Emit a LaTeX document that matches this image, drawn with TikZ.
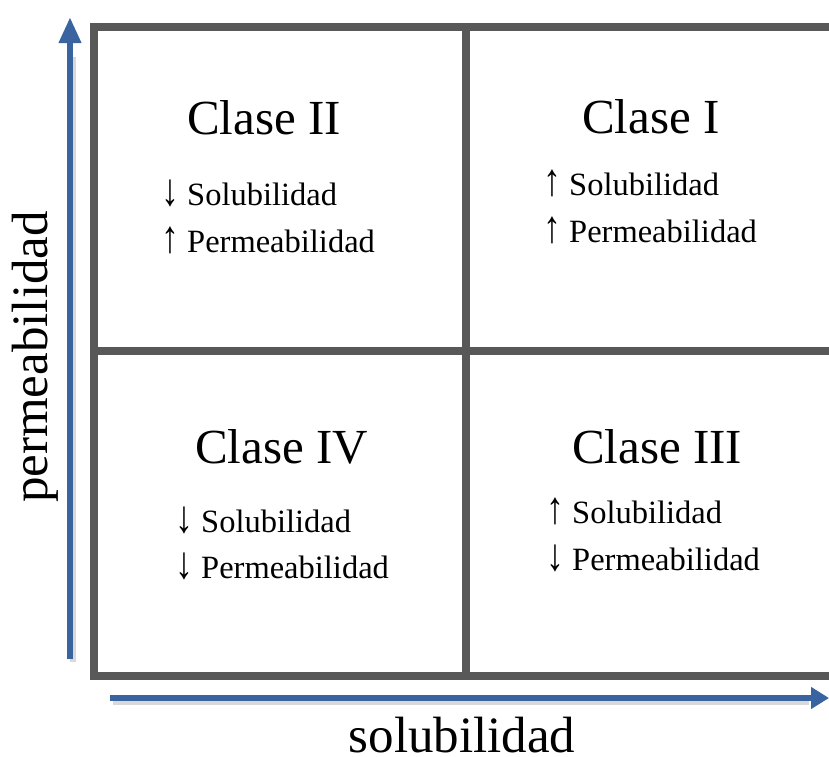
\documentclass[tikz,border=0pt]{standalone}
\usepackage{fontspec}
\setmainfont{Liberation Serif}
\usetikzlibrary{arrows.meta}
\definecolor{gridgray}{HTML}{585858}
\definecolor{axisblue}{HTML}{3A64A0}
\newcommand{\upar}{\scalebox{1.1}[1.4]{↑}}
\newcommand{\dnar}{\scalebox{1.1}[1.4]{↓}}
\tikzset{
  gridline/.style={draw=gridgray, line width=8pt},
  axis/.style={draw=axisblue, line width=6.5pt},
  title/.style={anchor=base west, inner sep=0pt, font=\fontsize{49}{58}\selectfont},
  item/.style={anchor=base west, inner sep=0pt, font=\fontsize{32.5}{39}\selectfont},
  axlabel/.style={anchor=base, inner sep=0pt, font=\fontsize{51}{60}\selectfont}
}
\begin{document}
\begin{tikzpicture}[x=1pt,y=-1pt]
\useasboundingbox (0,0) rectangle (829,756);
\clip (0,0) rectangle (829,756);
% grid
\coordinate (gtl) at (93.5,27);
\coordinate (gbr) at (840,676);
\draw[gridline] (gtl) rectangle (gbr);
\coordinate (vtop) at (466,27);
\coordinate (vbot) at (466,676);
\draw[gridline] (vtop) -- (vbot);
\coordinate (hleft) at (93.5,351);
\coordinate (hright) at (840,351);
\draw[gridline] (hleft) -- (hright);
% axes
\coordinate (yb) at (70,659);
\coordinate (yt) at (70,17);
\coordinate (xl) at (110,698);
\coordinate (xr) at (829,698);
\draw[line width=6pt, draw=black!15, line cap=butt] ([shift={(3,3)}]yb) -- ([shift={(3,40)}]yt);
\draw[line width=6pt, draw=black!15] ([shift={(3,4)}]xl) -- ([shift={(-20,4)}]xr);
\draw[axis, -{Triangle[length=26pt,width=21pt]}] (yb) -- (yt);
\draw[axis, -{Triangle[length=18pt,width=21pt]}] (xl) -- (xr);
\node[axlabel, rotate=90] (ylab) at (47,357) {permeabilidad};
\node[axlabel] (xlab) at (462,752) {solubilidad};
% Clase II
\node[title] (t2) at (187,134) {Clase II};
\node[item] (t2a) at (161,205) {\dnar\ Solubilidad};
\node[item] (t2b) at (161,252) {\upar\ Permeabilidad};
% Clase I
\node[title] (t1) at (582,133) {Clase I};
\node[item] (t1a) at (543,195) {\upar\ Solubilidad};
\node[item] (t1b) at (543,242) {\upar\ Permeabilidad};
% Clase IV
\node[title] (t4) at (195,463) {Clase IV};
\node[item] (t4a) at (175,532) {\dnar\ Solubilidad};
\node[item] (t4b) at (175,578) {\dnar\ Permeabilidad};
% Clase III
\node[title] (t3) at (572,463) {Clase III};
\node[item] (t3a) at (546,523) {\upar\ Solubilidad};
\node[item] (t3b) at (546,570) {\dnar\ Permeabilidad};
\end{tikzpicture}
\end{document}
